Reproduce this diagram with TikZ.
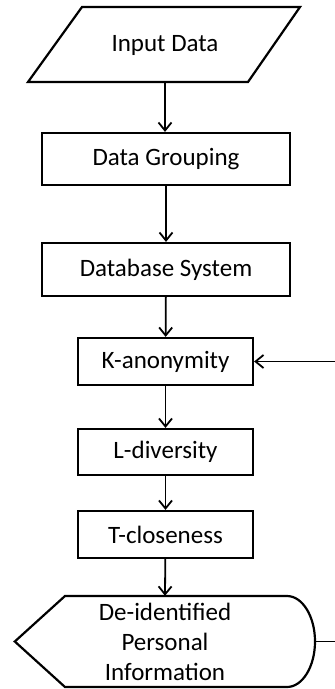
\documentclass[tikz,border=0pt]{standalone}
\usepackage{fontspec}
\setmainfont{Carlito}
\usetikzlibrary{arrows.meta,positioning}

\begin{document}
\begin{tikzpicture}[x=1pt, y=1pt, font=\fontsize{25}{30}\selectfont,
 stepbox/.style={draw, line width=2.2pt, align=center, inner sep=0pt},
 shapeline/.style={line width=2.2pt, line join=miter},
 arr/.style={-{Straight Barb[length=8pt,width=13pt]}, line width=1.8pt}]
\useasboundingbox (0,0) rectangle (335,-689);
% input (parallelogram)
\node[minimum width=160, minimum height=75, inner sep=0pt] (input) at (165,-45) {Input Data};
\draw[shapeline] (28,-82) -- (82,-7) -- (300,-7) -- (248,-82) -- cycle;
\node[stepbox, minimum width=248, minimum height=52] (grouping) at (166,-159) {Data Grouping};
\node[stepbox, minimum width=248, minimum height=53] (dbsys) at (166,-269.5) {Database System};
\node[stepbox, minimum width=175, minimum height=47] (kanon) at (165.5,-361.5) {K-anonymity};
\node[stepbox, minimum width=175, minimum height=46] (ldiv) at (165.5,-452) {L-diversity};
\node[stepbox, minimum width=175, minimum height=47] (tclose) at (165.5,-534.5) {T-closeness};
% output (display shape)
\node[align=center, minimum width=300, minimum height=91, inner sep=0pt] (output) at (165,-641.5) {De-identified\\Personal\\Information};
\draw[shapeline] (output.west) -- (65,-596) -- (287,-596)
  arc[start angle=90, end angle=-90, x radius=28, y radius=45.5] -- (65,-687) -- cycle;
\draw[arr] (input.south) -- (input.south |- grouping.north);
\draw[arr] (grouping) -- (dbsys);
\draw[arr] (dbsys) -- (kanon);
\draw[arr] (kanon) -- (ldiv);
\draw[arr] (ldiv) -- (tclose);
\draw[arr] (tclose) -- (output.north);
% feedback loop, runs off the right edge
\draw[arr] (output.east) -- ++(40,0) |- (kanon.east);
\end{tikzpicture}
\end{document}
